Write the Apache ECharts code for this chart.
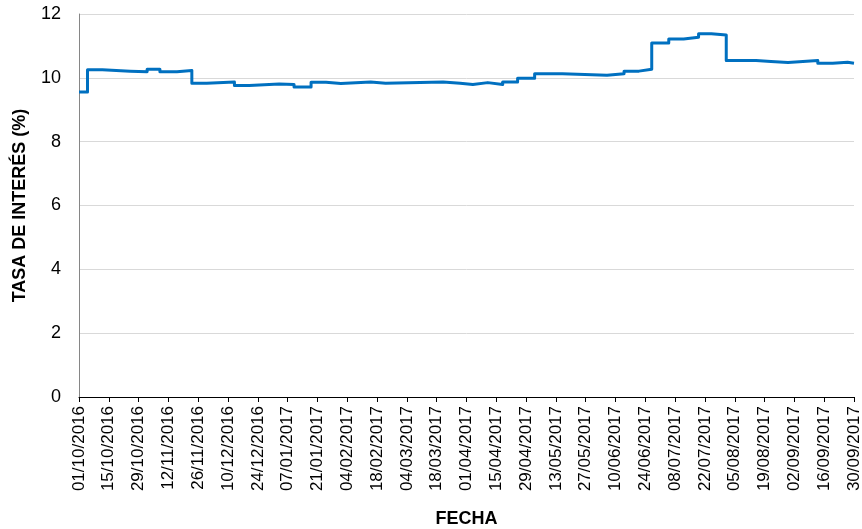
<!DOCTYPE html>
<html><head><meta charset="utf-8">
<script src="https://cdn.jsdelivr.net/npm/echarts@6/dist/echarts.min.js"></script>
<style>html,body{margin:0;padding:0;background:#fff}#c{width:862px;height:529px}</style>
</head><body><div id="c"></div>
<script>
// Start date of the x axis (day 0)
const startDate = [2016, 10, 1];
// Day (from 01/10/2016) at which each rate level begins
const changeDays = [0,4,11,24,32,38,46,53,60,73,80,94,101,109,116,123,137,144,171,179,185,192,199,206,214,227,248,256,263,269,277,284,291,297,304,318,325,333,340,347,354,361];
// Rate level (%) from that day on
const rates = [9.56,10.25,10.21,10.19,10.27,10.19,10.23,9.83,9.87,9.76,9.81,9.79,9.71,9.86,9.82,9.87,9.83,9.87,9.83,9.79,9.85,9.79,9.87,9.99,10.13,10.08,10.13,10.21,10.27,11.09,11.22,11.27,11.38,11.34,10.54,10.51,10.48,10.51,10.54,10.46,10.49,10.46];
const lastDay = 364;
const tickStepDays = 14;
const yTicks = [0,2,4,6,8,10,12];

const data = [];
for (let i = 0; i < changeDays.length; i++) {
  const end = i + 1 < changeDays.length ? changeDays[i + 1] : lastDay;
  data.push([changeDays[i], rates[i]]);
  data.push([end, rates[i]]);
}
function fmtDay(d) {
  const t = new Date(Date.UTC(startDate[0], startDate[1] - 1, startDate[2] + Math.round(d)));
  const p = n => String(n).padStart(2, '0');
  return p(t.getUTCDate()) + '/' + p(t.getUTCMonth() + 1) + '/' + t.getUTCFullYear();
}
const font = 'Liberation Sans';
const chart = echarts.init(document.getElementById('c'), null, {renderer: 'canvas'});
chart.setOption({
  animation: false,
  grid: {left: 79, right: 8, top: 14, bottom: 132, containLabel: false, outerBoundsMode: 'none'},
  xAxis: {
    type: 'value', min: 0, max: lastDay, interval: tickStepDays,
    name: 'FECHA', nameLocation: 'middle', nameGap: 113,
    nameTextStyle: {fontFamily: font, fontWeight: 'bold', fontSize: 18, color: '#000'},
    axisLine: {lineStyle: {color: '#000', width: 1}},
    axisTick: {show: true, length: 5, lineStyle: {color: '#000'}},
    splitLine: {show: false},
    axisLabel: {rotate: 90, fontFamily: font, fontSize: 17, color: '#000', margin: 9, formatter: fmtDay, showMinLabel: true, showMaxLabel: true, hideOverlap: false, interval: 0}
  },
  yAxis: {
    type: 'value', min: yTicks[0], max: yTicks[yTicks.length - 1], interval: 2,
    name: 'TASA DE INTERÉS (%)', nameLocation: 'middle', nameGap: 50, nameRotate: 90,
    nameTextStyle: {fontFamily: font, fontWeight: 'bold', fontSize: 18, color: '#000'},
    axisLine: {show: true, lineStyle: {color: '#868686'}},
    axisTick: {show: false},
    splitLine: {lineStyle: {color: '#d9d9d9'}},
    axisLabel: {fontFamily: font, fontSize: 18, color: '#000', margin: 18}
  },
  series: [{
    type: 'line', data: data, showSymbol: false, symbol: 'none',
    lineStyle: {color: '#0070C0', width: 3, join: 'round'}
  }]
});
</script></body></html>
